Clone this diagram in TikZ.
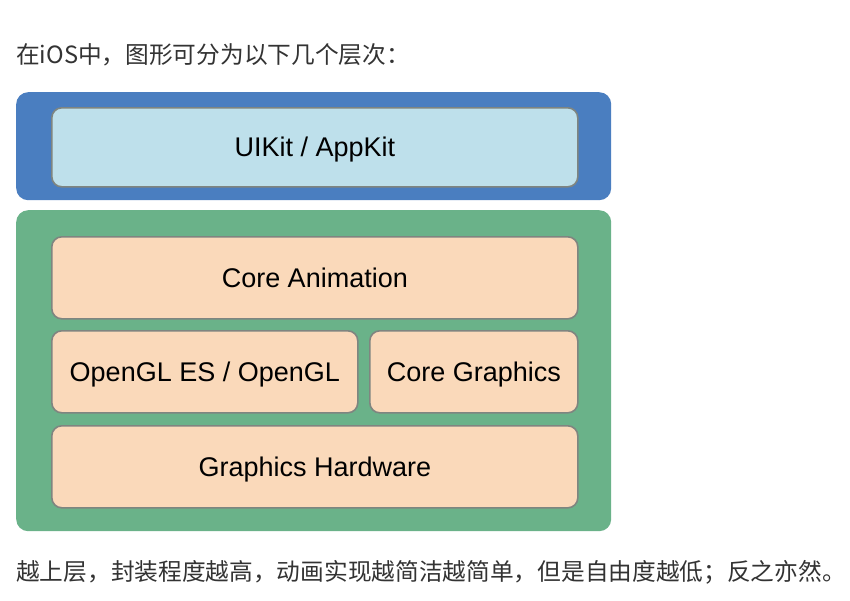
\documentclass[tikz,border=0pt]{standalone}
\usepackage{fontspec}
\setmainfont{Liberation Sans}
\newfontfamily\cjk{Noto Sans CJK SC}
\definecolor{outerblue}{HTML}{4A7EC0}
\definecolor{outergreen}{HTML}{6AB289}
\definecolor{lightblue}{HTML}{BEE0EB}
\definecolor{peach}{HTML}{FAD9BA}
\definecolor{edgegray}{HTML}{7F8580}
\definecolor{txtgray}{HTML}{333333}
\tikzset{
  outer/.style={rounded corners=12pt, inner sep=0pt, anchor=north west},
  layer/.style={draw=edgegray, line width=1.6pt, rounded corners=10pt, inner sep=0pt, anchor=north west,
     font=\fontsize{27}{32}\selectfont, text=black, text depth=1pt},
  caption/.style={anchor=west, inner sep=0pt, text=txtgray, font=\cjk\fontsize{23.7}{28}\selectfont}
}
\begin{document}
\begin{tikzpicture}[x=1pt,y=-1pt]
\useasboundingbox[fill=white] (0,0) rectangle (850,600);
\node[caption] (top) at (16,55) {在iOS中，图形可分为以下几个层次：};
\node[outer, fill=outerblue, minimum width=595pt, minimum height=108pt] (blue) at (16,92) {};
\node[layer, fill=lightblue, minimum width=526pt, minimum height=79pt] (uikit) at (51,107) {UIKit / AppKit};
\node[outer, fill=outergreen, minimum width=595pt, minimum height=321pt] (green) at (16,210) {};
\node[layer, fill=peach, minimum width=526pt, minimum height=82pt] (ca) at (51,236) {Core Animation};
\node[layer, fill=peach, minimum width=306pt, minimum height=82pt] (gl) at (51,330) {OpenGL ES / OpenGL};
\node[layer, fill=peach, minimum width=208pt, minimum height=82pt] (cg) at (369,330) {Core Graphics};
\node[layer, fill=peach, minimum width=526pt, minimum height=82pt] (hw) at (51,425) {Graphics Hardware};
\node[caption] (bottom) at (16,572) {越上层，封装程度越高，动画实现越简洁越简单，但是自由度越低；反之亦然。};
\end{tikzpicture}
\end{document}
